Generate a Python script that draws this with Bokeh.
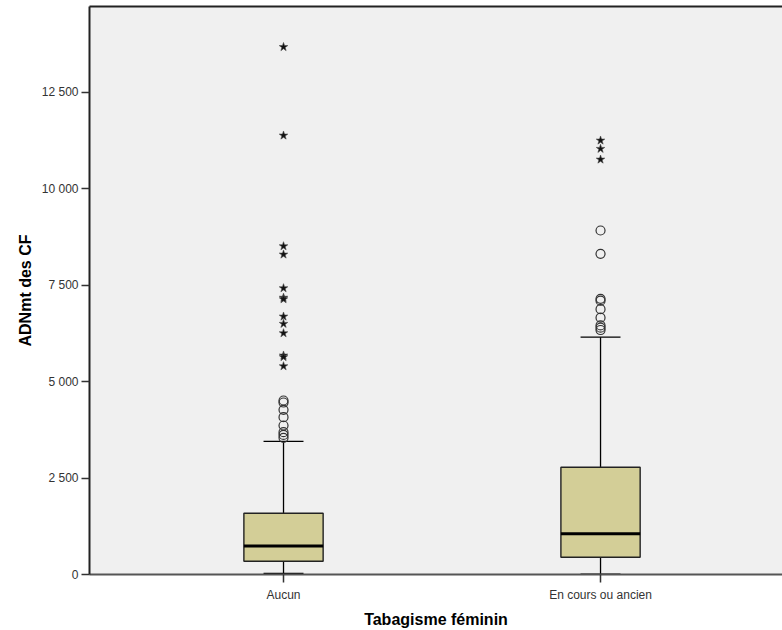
from bokeh.plotting import figure
from bokeh.models import FixedTicker, LinearAxis, Range1d, ColumnDataSource
from bokeh.embed import file_html
from bokeh.resources import INLINE

# Groups and box-plot summaries (ADNmt des CF)
groups = ["Aucun", "En cours ou ancien"]
q1 = [345, 449]
median = [740, 1055]
q3 = [1590, 2783]
whisker_low = [30, 10]
whisker_high = [3450, 6154]

# Outliers (circles) and extreme values (stars) per group
outliers_aucun = [4512, 4460, 4271, 4080, 3864, 3690, 3620, 3545]
extremes_aucun = [13680, 11385, 8514, 8299, 7425, 7180, 7140, 6691, 6502,
                  6258, 5680, 5640, 5402]
outliers_fumeur = [8921, 8317, 7150, 7100, 6880, 6660, 6460, 6400, 6340]
extremes_fumeur = [11255, 11040, 10762]

y_ticks = [0, 2500, 5000, 7500, 10000, 12500]
y_tick_labels = ["0", "2 500", "5 000", "7 500", "10 000", "12 500"]

FONT = "Liberation Sans"
BOX_FILL = "#D3CE97"
BOX_W = 0.25
CAP_W = 0.126

xpos = [i + 1 for i in range(len(groups))]

p = figure(width=782, height=630, output_backend="svg", toolbar_location=None,
           x_range=Range1d(0.388, 2.574), y_range=Range1d(0, 14730),
           min_border_left=89, min_border_right=0, min_border_top=6,
           min_border_bottom=54)
p.background_fill_color = "#F0F0F0"
p.border_fill_color = "white"
p.outline_line_color = None
p.grid.visible = False

# Whiskers
p.segment(x0=xpos, y0=q3, x1=xpos, y1=whisker_high, line_color="black", line_width=1.3)
p.segment(x0=xpos, y0=q1, x1=xpos, y1=whisker_low, line_color="black", line_width=1.3)
p.segment(x0=[x - CAP_W / 2 for x in xpos], y0=whisker_high,
          x1=[x + CAP_W / 2 for x in xpos], y1=whisker_high,
          line_color="black", line_width=1.3)
p.segment(x0=[x - CAP_W / 2 for x in xpos], y0=whisker_low,
          x1=[x + CAP_W / 2 for x in xpos], y1=whisker_low,
          line_color="black", line_width=1.3)

# Boxes and medians
box_src = ColumnDataSource(dict(x=xpos, bottom=q1, top=q3))
p.vbar(x="x", width=BOX_W, bottom="bottom", top="top", source=box_src,
       fill_color=BOX_FILL, line_color="#222222", line_width=1.4)
p.segment(x0=[x - BOX_W / 2 for x in xpos], y0=median,
          x1=[x + BOX_W / 2 for x in xpos], y1=median,
          line_color="black", line_width=3)

# Outliers
for x, vals in zip(xpos, [outliers_aucun, outliers_fumeur]):
    p.scatter([x] * len(vals), vals, marker="circle", size=9,
              fill_color=None, line_color="#333333", line_width=1.2)
for x, vals in zip(xpos, [extremes_aucun, extremes_fumeur]):
    p.scatter([x] * len(vals), vals, marker="star", size=9,
              fill_color="#111111", line_color="#444444", line_width=0.6)

# Axes
p.yaxis.ticker = FixedTicker(ticks=y_ticks)
p.yaxis.major_label_overrides = dict(zip(y_ticks, y_tick_labels))
p.yaxis.minor_tick_line_color = None
p.yaxis.major_tick_in = 0
p.yaxis.major_tick_out = 8
p.yaxis.major_tick_line_color = "#333333"
p.yaxis.major_tick_line_width = 1.5
p.yaxis.axis_line_color = "#222222"
p.yaxis.axis_line_width = 2
p.yaxis.major_label_text_font = FONT
p.yaxis.major_label_text_font_size = "12px"
p.yaxis.major_label_text_color = "#333333"
p.yaxis.major_label_standoff = 3
p.yaxis.axis_label = "ADNmt des CF"
p.yaxis.axis_label_text_font = FONT
p.yaxis.axis_label_text_font_style = "bold"
p.yaxis.axis_label_text_font_size = "16px"
p.yaxis.axis_label_text_color = "black"
p.yaxis.axis_label_standoff = 5

p.xaxis.ticker = FixedTicker(ticks=xpos)
p.xaxis.major_label_overrides = {x: g for x, g in zip(xpos, groups)}
p.xaxis.minor_tick_line_color = None
p.xaxis.major_tick_in = 0
p.xaxis.major_tick_out = 8
p.xaxis.major_tick_line_color = "#333333"
p.xaxis.major_tick_line_width = 1.5
p.xaxis.axis_line_color = "#555555"
p.xaxis.axis_line_width = 2
p.xaxis.major_label_text_font = FONT
p.xaxis.major_label_text_font_size = "12px"
p.xaxis.major_label_text_color = "#333333"
p.xaxis.major_label_standoff = 5
p.xaxis.axis_label = "Tabagisme féminin"
p.xaxis.axis_label_text_font = FONT
p.xaxis.axis_label_text_font_style = "bold"
p.xaxis.axis_label_text_font_size = "16px"
p.xaxis.axis_label_text_color = "black"
p.xaxis.axis_label_standoff = 6

# Top border of the plot area
top = LinearAxis(ticker=FixedTicker(ticks=[]), axis_line_color="#222222",
                 axis_line_width=2, major_tick_line_color=None,
                 minor_tick_line_color=None, major_label_text_font_size="0px")
p.add_layout(top, "above")

open("out.html", "w").write(file_html(p, INLINE))
